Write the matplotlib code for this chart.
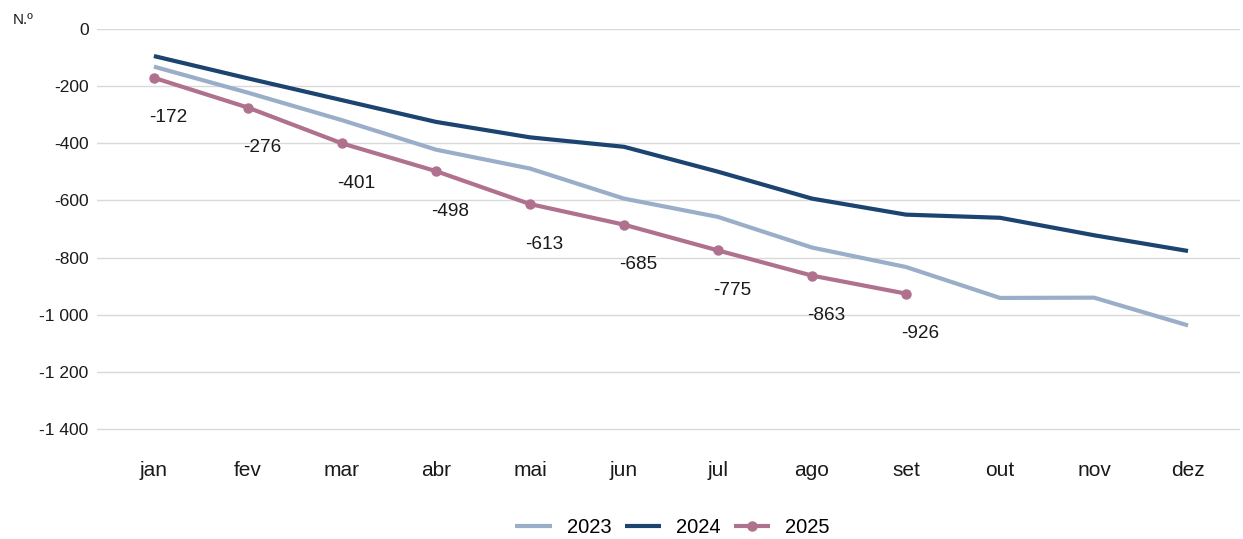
import matplotlib.pyplot as plt
import numpy as np

plt.rcParams['font.family'] = ['Liberation Sans', 'DejaVu Sans']

# Dados
meses = ['jan', 'fev', 'mar', 'abr', 'mai', 'jun', 'jul', 'ago', 'set', 'out', 'nov', 'dez']
v2023 = [-133, -224, -320, -423, -489, -594, -658, -765, -833, -941, -940, -1037]
v2024 = [-96, -174, -250, -326, -380, -413, -500, -594, -650, -661, -722, -777]
v2025 = [-172, -276, -401, -498, -613, -685, -775, -863, -926]
anos = ['2023', '2024', '2025']
yticks = [0, -200, -400, -600, -800, -1000, -1200, -1400]

cor2023 = '#9AAEC9'
cor2024 = '#1B4470'
cor2025 = '#B0718F'

fig = plt.figure(figsize=(12.43, 5.39), dpi=100)
ax = fig.add_axes([0.078, 0.161, 0.9196, 0.786])

x = np.arange(len(meses))
ax.plot(x, v2023, color=cor2023, lw=3, label=anos[0], solid_capstyle='butt')
ax.plot(x, v2024, color=cor2024, lw=3, label=anos[1], solid_capstyle='butt')
ax.plot(x[:len(v2025)], v2025, color=cor2025, lw=3, marker='o', ms=6.5,
        label=anos[2], solid_capstyle='butt')

# rótulos de 2025
for xi, v in zip(x, v2025):
    ax.annotate(f'{v}', (xi, v), xytext=(14, -40), textcoords='offset pixels',
                ha='center', va='center', fontsize=13.7, color='#1a1a1a')

ax.set_xlim(-0.606, 11.553)
ax.set_ylim(-1480, 0)
ax.set_yticks(yticks)
ax.set_yticklabels([f'{t:,}'.replace(',', '\u00a0') if t != 0 else '0' for t in yticks])
ax.set_xticks(x)
ax.set_xticklabels(meses, fontsize=15)
ax.tick_params(axis='both', length=0, colors='#1a1a1a')
ax.tick_params(axis='y', labelsize=12.5, pad=6)
ax.tick_params(axis='x', pad=6)
ax.grid(axis='y', color='#D9D9D9', lw=1)
ax.set_axisbelow(True)
for s in ax.spines.values():
    s.set_visible(False)

fig.text(0.01, 0.962, 'N.º', fontsize=11, color='#1a1a1a', va='center')

fig.legend(loc='center', bbox_to_anchor=(0.541, 0.022), ncol=3, frameon=False,
           fontsize=14.5, handlelength=1.8, handletextpad=0.75, columnspacing=0.65)

fig.savefig('out.png', dpi=100)
